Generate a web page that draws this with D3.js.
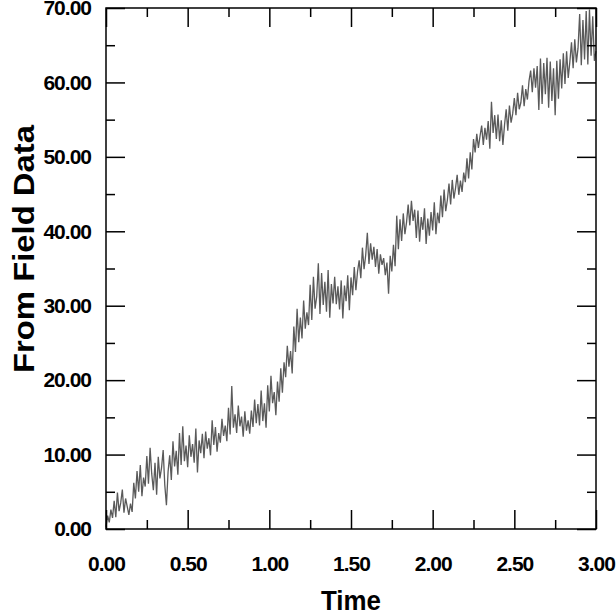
<!DOCTYPE html>
<html>
<head>
<meta charset="utf-8">
<script src="https://cdn.jsdelivr.net/npm/d3@7"></script>
<style>
  html, body { margin: 0; padding: 0; background: #fff; }
  svg { display: block; }
  text { font-family: "Liberation Sans", Arial, Helvetica, sans-serif; fill: #000; }
</style>
</head>
<body>
<svg id="chart" width="616" height="614"></svg>
<script>
// ---- data ----
const timeStart = 0.0;
const timeStep = 0.01;
const fieldValues = [
  0.3, 1.8, 0.9, 2.6, 1.5,
  3.8, 1.6, 4.9, 2.4, 3.5,
  5.3, 2.2, 4.1, 3.0, 1.9,
  3.4, 2.3, 6.2, 4.1, 7.8,
  5.0, 8.6, 4.4, 6.9, 5.7,
  9.8, 6.1, 10.9, 7.4, 5.2,
  8.9, 4.6, 9.7, 6.8, 8.2,
  10.6, 5.9, 3.2, 7.7, 9.9,
  6.6, 11.8, 8.4, 10.5, 7.3,
  12.9, 8.6, 13.8, 9.1, 11.2,
  8.3, 12.6, 9.7, 11.4, 8.9,
  13.5, 7.6, 11.9, 10.2, 12.8,
  9.5, 13.1, 10.8, 12.2, 9.9,
  14.6, 11.3, 13.7, 10.4, 12.9,
  11.6, 14.8, 12.5, 13.9, 11.8,
  16.3, 12.7, 19.2, 13.6, 15.4,
  12.9, 16.6, 13.8, 15.1, 12.4,
  15.8, 13.2, 14.6, 12.8, 15.9,
  13.7, 17.4, 14.2, 16.8, 13.9,
  18.6, 14.5, 16.9, 13.6, 19.3,
  15.8, 20.6, 16.9, 18.4, 15.3,
  19.8, 17.1, 21.6, 18.3, 22.4,
  20.4, 24.6, 21.8, 23.9, 20.9,
  27.2, 23.8, 29.6, 25.1, 28.4,
  25.6, 30.7, 26.9, 29.1, 27.4,
  32.8, 28.1, 33.9, 29.6, 31.2,
  35.7, 28.9, 34.4, 30.1, 33.2,
  29.2, 34.8, 28.4, 32.9, 30.3,
  33.9, 30.2, 32.6, 29.5, 33.4,
  28.3, 32.7, 30.6, 34.1, 29.4,
  33.8, 31.4, 35.2, 32.1, 34.6,
  36.1, 33.7, 37.8, 34.9, 36.8,
  39.8, 35.6, 38.4, 36.2, 37.9,
  35.2, 37.6, 34.3, 36.9, 35.5,
  36.4, 34.1, 35.8, 31.6, 36.7,
  34.6, 38.2, 35.3, 42.1, 37.6,
  41.6, 38.7, 42.4, 39.6, 41.2,
  43.6, 40.8, 44.1, 41.4, 42.9,
  39.1, 42.8, 38.6, 41.9, 40.2,
  43.1, 38.3, 41.7, 39.4, 42.6,
  40.1, 43.9, 39.6, 42.5, 41.1,
  44.8, 41.9, 45.6, 42.7, 44.2,
  46.4, 43.6, 46.9, 44.4, 45.8,
  47.6, 44.9, 46.8, 45.3, 47.9,
  46.6, 49.8, 47.1, 50.6, 48.3,
  52.4, 50.6, 53.1, 51.2, 52.8,
  54.2, 51.6, 53.9, 52.3, 54.8,
  51.1, 57.4, 53.2, 55.6, 52.4,
  55.7, 52.1, 54.9, 51.6, 54.3,
  56.4, 53.5, 56.9, 54.6, 55.8,
  57.9, 55.6, 58.6, 56.4, 57.3,
  59.6, 56.8, 59.1, 57.7, 60.2,
  61.6, 58.7, 61.9, 59.3, 62.2,
  56.3, 63.2, 57.1, 62.6, 58.4,
  63.3, 56.6, 62.8, 57.5, 61.9,
  55.6, 62.9, 57.8, 63.1, 59.2,
  63.9, 59.8, 64.2, 60.6, 62.8,
  65.4, 61.9, 65.8, 62.7, 64.6,
  69.2, 62.3, 68.4, 63.1, 69.6,
  62.4, 69.8, 63.6, 68.9, 62.9,
  64.2
];
const xTickValues = [0, 0.5, 1.0, 1.5, 2.0, 2.5, 3.0];
const xMinorTicks = [0.25, 0.75, 1.25, 1.75, 2.25, 2.75];
const yTickValues = [0, 10, 20, 30, 40, 50, 60, 70];
const yMinorTicks = [5, 15, 25, 35, 45, 55, 65];
const xTitle = "Time";
const yTitle = "From Field Data";

// ---- layout ----
const L = 106, R = 596, T = 8, B = 529;
const svg = d3.select("#chart");
const x = d3.scaleLinear().domain([0, 3]).range([L, R]);
const y = d3.scaleLinear().domain([0, 70]).range([B, T]);

const points = fieldValues.map((v, i) => [timeStart + i * timeStep, v]);

// line
svg.append("path")
  .datum(points)
  .attr("fill", "none")
  .attr("stroke", "#5a5a5a")
  .attr("stroke-width", 1.3)
  .attr("d", d3.line().x(d => x(d[0])).y(d => y(d[1])));

// frame
svg.append("rect")
  .attr("x", L).attr("y", T).attr("width", R - L).attr("height", B - T)
  .attr("fill", "none").attr("stroke", "#000").attr("stroke-width", 1.5);

const fmt = d3.format(".2f");
const major = 19, minor = 9;

function styleAxis(g) {
  g.select(".domain").remove();
  g.selectAll(".tick line").attr("stroke", "#000").attr("stroke-width", 1.5);
}
function styleLabels(g) {
  g.selectAll(".tick text")
    .attr("font-size", 21).attr("font-weight", "bold").attr("letter-spacing", "-1px")
    .attr("font-family", "'Liberation Sans', Arial, sans-serif");
}

// bottom axis
svg.append("g").attr("transform", `translate(0,${B})`)
  .call(d3.axisBottom(x).tickValues(xTickValues).tickSize(-major).tickPadding(major + 8).tickFormat(fmt))
  .call(styleAxis).call(styleLabels);
svg.append("g").attr("transform", `translate(0,${B})`)
  .call(d3.axisBottom(x).tickValues(xMinorTicks).tickSize(-minor).tickFormat(""))
  .call(styleAxis);
// top axis
svg.append("g").attr("transform", `translate(0,${T})`)
  .call(d3.axisTop(x).tickValues(xTickValues).tickSize(-major).tickFormat(""))
  .call(styleAxis);
svg.append("g").attr("transform", `translate(0,${T})`)
  .call(d3.axisTop(x).tickValues(xMinorTicks).tickSize(-minor).tickFormat(""))
  .call(styleAxis);

// left axis
svg.append("g").attr("transform", `translate(${L},0)`)
  .call(d3.axisLeft(y).tickValues(yTickValues).tickSize(-major).tickPadding(15).tickFormat(fmt))
  .call(styleAxis).call(styleLabels);
svg.append("g").attr("transform", `translate(${L},0)`)
  .call(d3.axisLeft(y).tickValues(yMinorTicks).tickSize(-minor).tickFormat(""))
  .call(styleAxis);
// right axis
svg.append("g").attr("transform", `translate(${R},0)`)
  .call(d3.axisRight(y).tickValues(yTickValues).tickSize(-major).tickFormat(""))
  .call(styleAxis);
svg.append("g").attr("transform", `translate(${R},0)`)
  .call(d3.axisRight(y).tickValues(yMinorTicks).tickSize(-minor).tickFormat(""))
  .call(styleAxis);

// titles
svg.append("text")
  .attr("x", 351).attr("y", 610)
  .attr("text-anchor", "middle")
  .attr("font-size", 28).attr("font-weight", "bold")
  .attr("textLength", 60).attr("lengthAdjust", "spacingAndGlyphs")
  .text(xTitle);

svg.append("text")
  .attr("transform", `translate(34,249) rotate(-90)`)
  .attr("text-anchor", "middle")
  .attr("font-size", 30).attr("font-weight", "bold")
  .attr("textLength", 248).attr("lengthAdjust", "spacingAndGlyphs")
  .text(yTitle);
</script>
</body>
</html>
